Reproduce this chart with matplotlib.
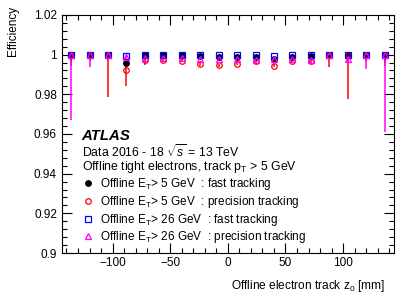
import matplotlib
matplotlib.use("Agg")
import matplotlib.pyplot as plt
from matplotlib.lines import Line2D
from matplotlib.ticker import MultipleLocator, FuncFormatter
import numpy as np

plt.rcParams["font.family"] = ["Liberation Sans", "DejaVu Sans"]
plt.rcParams["mathtext.fontset"] = "custom"
plt.rcParams["mathtext.rm"] = "Liberation Sans"
plt.rcParams["mathtext.it"] = "Liberation Sans:italic"
plt.rcParams["mathtext.bf"] = "Liberation Sans:bold"

# 18 bins of 16 mm between -144 and 144 mm
BIN_EDGES = np.linspace(-144, 144, 19)
Z0 = 0.5 * (BIN_EDGES[:-1] + BIN_EDGES[1:])

# Offline ET > 5 GeV, fast tracking
EFF_FAST5 = [1.0, 1.0, 1.0, 0.996, 0.9998, 0.9998, 0.9998, 0.9995, 0.999,
             0.999, 0.999, 0.998, 0.9988, 0.9995, 1.0, 1.0, 1.0, 1.0]
LO_FAST5 = [0.002, 0.001, 0.002, 0.002, 0.0005, 0.0003, 0.0003, 0.0003, 0.0004,
            0.0004, 0.0004, 0.0005, 0.0005, 0.0005, 0.001, 0.002, 0.001, 0.002]
HI_FAST5 = [0.0, 0.0, 0.0, 0.001, 0.0002, 0.0002, 0.0002, 0.0003, 0.0004,
            0.0004, 0.0004, 0.0005, 0.0005, 0.0003, 0.0, 0.0, 0.0, 0.0]

# Offline ET > 5 GeV, precision tracking
EFF_PREC5 = [1.0, 1.0, 1.0, 0.992, 0.9972, 0.9975, 0.997, 0.9952, 0.9946,
             0.9954, 0.9967, 0.9944, 0.997, 0.997, 1.0, 1.0, 1.0, 1.0]
LO_PREC5 = [0.006, 0.003, 0.0213, 0.0076, 0.0024, 0.001, 0.0008, 0.0008, 0.0008,
            0.0008, 0.0008, 0.0008, 0.0008, 0.001, 0.0062, 0.0223, 0.003, 0.006]
HI_PREC5 = [0.0, 0.0, 0.0, 0.005, 0.0020, 0.0008, 0.0008, 0.0008, 0.0008,
            0.0008, 0.0008, 0.0008, 0.0008, 0.001, 0.0, 0.0, 0.0, 0.0]

# Offline ET > 26 GeV, fast tracking
EFF_FAST26 = [1.0, 1.0, 1.0, 0.9993, 1.0, 1.0, 1.0, 1.0, 1.0,
              1.0, 1.0, 0.9995, 1.0, 1.0, 1.0, 1.0, 1.0, 1.0]
LO_FAST26 = [0.003, 0.001, 0.001, 0.0007, 0.0002, 0.0002, 0.0002, 0.0002, 0.0002,
             0.0002, 0.0002, 0.0004, 0.0002, 0.0002, 0.001, 0.001, 0.001, 0.003]
HI_FAST26 = [0.0] * 18

# Offline ET > 26 GeV, precision tracking
EFF_PREC26 = [1.0, 1.0, 1.0, 0.9988, 0.9985, 0.9985, 0.9985, 0.998, 0.998,
              0.998, 0.9975, 0.998, 0.998, 0.9975, 1.0, 0.998, 1.0, 1.0]
LO_PREC26 = [0.033, 0.0062, 0.002, 0.002, 0.0008, 0.0006, 0.0006, 0.0006, 0.0006,
             0.0006, 0.0006, 0.0006, 0.0006, 0.0008, 0.002, 0.002, 0.0075, 0.039]
HI_PREC26 = [0.0, 0.0, 0.0, 0.0012, 0.0008, 0.0006, 0.0006, 0.0006, 0.0006,
             0.0006, 0.0006, 0.0006, 0.0006, 0.0008, 0.0, 0.0015, 0.0, 0.0]

SERIES = [
    (EFF_FAST5, LO_FAST5, HI_FAST5, "o", "black", "black",
     r"Offline E$_{\mathrm{T}}$> 5 GeV  : fast tracking"),
    (EFF_PREC5, LO_PREC5, HI_PREC5, "o", "none", "#ff0000",
     r"Offline E$_{\mathrm{T}}$> 5 GeV  : precision tracking"),
    (EFF_FAST26, LO_FAST26, HI_FAST26, "s", "none", "#0000ff",
     r"Offline E$_{\mathrm{T}}$> 26 GeV  : fast tracking"),
    (EFF_PREC26, LO_PREC26, HI_PREC26, "^", "none", "#ff00ff",
     r"Offline E$_{\mathrm{T}}$> 26 GeV  : precision tracking"),
]

fig = plt.figure(figsize=(4.15, 2.98), dpi=100)
ax = fig.add_axes([0.149, 0.151, 0.800, 0.799])

handles = []
for eff, lo, hi, marker, face, color, label in SERIES:
    ax.errorbar(Z0, eff, yerr=[lo, hi], fmt=marker, ms=4, mfc=face, mec=color,
                mew=0.9, ecolor=color, elinewidth=1.1, capsize=0)
    handles.append(Line2D([], [], ls="none", marker=marker, ms=4, mfc=face,
                          mec=color, mew=0.9, label=label))

ax.set_xlim(-144, 144)
ax.set_ylim(0.9, 1.02)
ax.xaxis.set_major_locator(MultipleLocator(50))
ax.xaxis.set_minor_locator(MultipleLocator(10))
ax.yaxis.set_major_locator(MultipleLocator(0.02))
ax.yaxis.set_minor_locator(MultipleLocator(0.004))
ax.yaxis.set_major_formatter(FuncFormatter(lambda v, p: f"{v:g}"))
ax.xaxis.set_major_formatter(FuncFormatter(lambda v, p: f"{v:g}".replace("-", "\u2212")))
ax.tick_params(which="both", direction="in", top=True, right=True, labelsize=8.5)
ax.tick_params(which="major", length=7, width=0.8)
ax.tick_params(which="minor", length=3.5, width=0.8)
ax.tick_params(axis="x", pad=3)
for spine in ax.spines.values():
    spine.set_linewidth(0.8)

ax.set_xlabel(r"Offline electron track z$_0$ [mm]", fontsize=8.6, ha="right")
ax.xaxis.set_label_coords(0.975, -0.105)
ax.set_ylabel("Efficiency", fontsize=8.5, ha="right")
ax.yaxis.set_label_coords(-0.13, 1.04)

ax.text(0.06, 0.49, "ATLAS", transform=ax.transAxes, fontsize=10.8, fontweight="bold",
        fontstyle="italic", va="center")
ax.text(0.06, 0.424, r"Data 2016 - 18 $\sqrt{s}$ = 13 TeV", transform=ax.transAxes,
        fontsize=8.8, va="center")
ax.text(0.06, 0.36, r"Offline tight electrons, track p$_{\mathrm{T}}$ > 5 GeV",
        transform=ax.transAxes, fontsize=8.8, va="center")

ax.legend(handles=handles, loc="upper left", bbox_to_anchor=(0.061, 0.323),
          frameon=False, fontsize=8.5, handlelength=1.0, handletextpad=0.55,
          labelspacing=0.15, borderaxespad=0, borderpad=0)

fig.savefig("out.png", dpi=100)
